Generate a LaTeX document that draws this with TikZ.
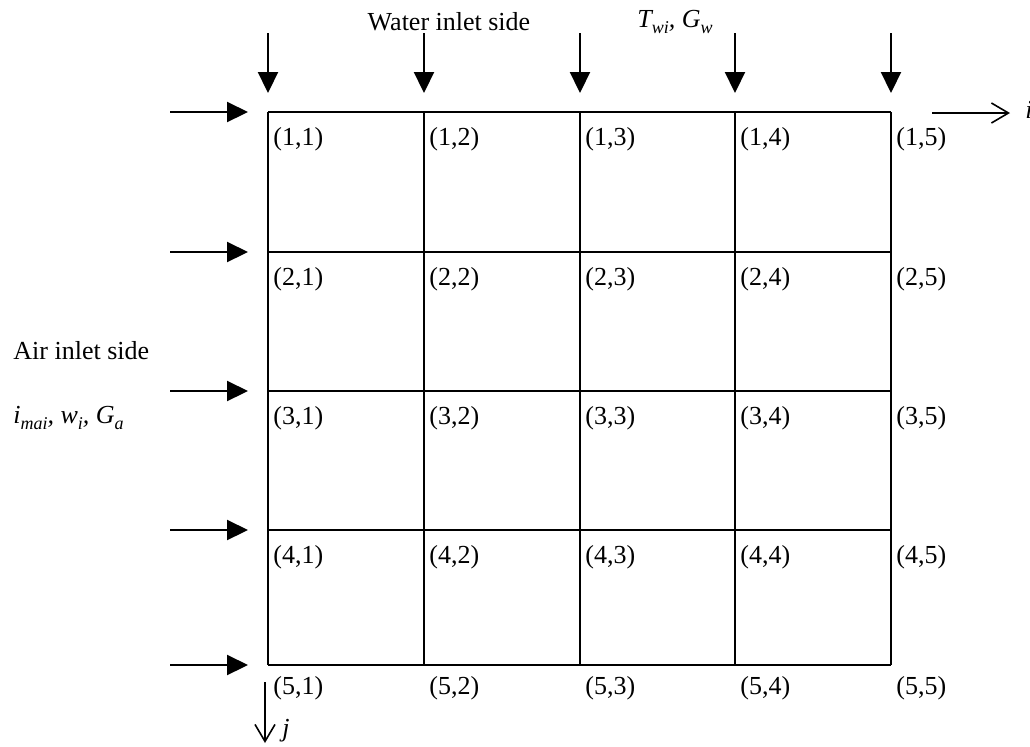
\documentclass[tikz,border=0pt]{standalone}
\usepackage{fontspec}
\setmainfont{Liberation Serif}
\usetikzlibrary{arrows.meta}
\newcommand\lowsub[1]{\raisebox{-0.45ex}{\fontsize{9}{10}\selectfont #1}}
\begin{document}
\begin{tikzpicture}[x=0.5pt,y=-0.5pt,
  gridline/.style={line width=1.2pt},
  inarrow/.style={line width=1.1pt,-{Triangle[length=10.5pt,width=10pt]}},
  axisarrow/.style={line width=0.8pt,-{Straight Barb[length=8.5pt,width=10pt]}},
  lab/.style={anchor=west,inner sep=0pt,font=\fontsize{13}{15}\selectfont},
  txt/.style={inner sep=0pt,font=\fontsize{13}{15}\selectfont}]
\useasboundingbox (0,0) rectangle (1030,746);
% grid coordinates
\foreach \c/\x in {1/268,2/424,3/580,4/735,5/891}{
  \foreach \r/\y in {1/112,2/252,3/391,4/530,5/665}{
    \coordinate (g\r\c) at (\x,\y);
  }
  \coordinate (top\c) at (\x,33);
  \coordinate (toptip\c) at (\x,93);
}
\foreach \r/\y in {1/112,2/252,3/391,4/530,5/665}{
  \coordinate (left\r) at (170,\y);
  \coordinate (lefttip\r) at (248,\y);
}
% grid lines
\foreach \r in {1,...,5}{ \draw[gridline] (g\r1) -- (g\r5); }
\foreach \c in {1,...,5}{ \draw[gridline] (g1\c) -- (g5\c); }
% inlet arrows
\foreach \c in {1,...,5}{ \draw[inarrow] (top\c) -- (toptip\c); }
\foreach \r in {1,...,5}{ \draw[inarrow] (left\r) -- (lefttip\r); }
% cell labels
\foreach \r in {1,...,4}{
  \foreach \c in {1,...,5}{
    \node[lab] (l\r\c) at ([xshift=2.5pt,yshift=-13.5pt]g\r\c) {(\r,\c)};
  }
}
\foreach \c in {1,...,5}{
  \node[lab] (l5\c) at ([xshift=2.5pt,yshift=-11.5pt]g5\c) {(5,\c)};
}
% axes
\coordinate (istart) at (932,113);
\coordinate (iend) at (1010,113);
\draw[axisarrow] (istart) -- (iend);
\node[lab] (ilab) at (1025,110) {\itshape i};
\coordinate (jstart) at (265,682);
\coordinate (jend) at (265,743);
\draw[axisarrow] (jstart) -- (jend);
\node[txt] (jlab) at (286,731) {\itshape j};
% texts
\node[txt] (water) at (449,22) {Water inlet side};
\node[txt] (twgw) at (675,22) {\itshape T\lowsub{wi}, G\lowsub{w}};
\node[lab] (air) at (13,351) {Air inlet side};
\node[lab] (airvars) at (13,418) {\itshape i\lowsub{mai}, w\lowsub{i}, G\lowsub{a}};
\end{tikzpicture}
\end{document}
